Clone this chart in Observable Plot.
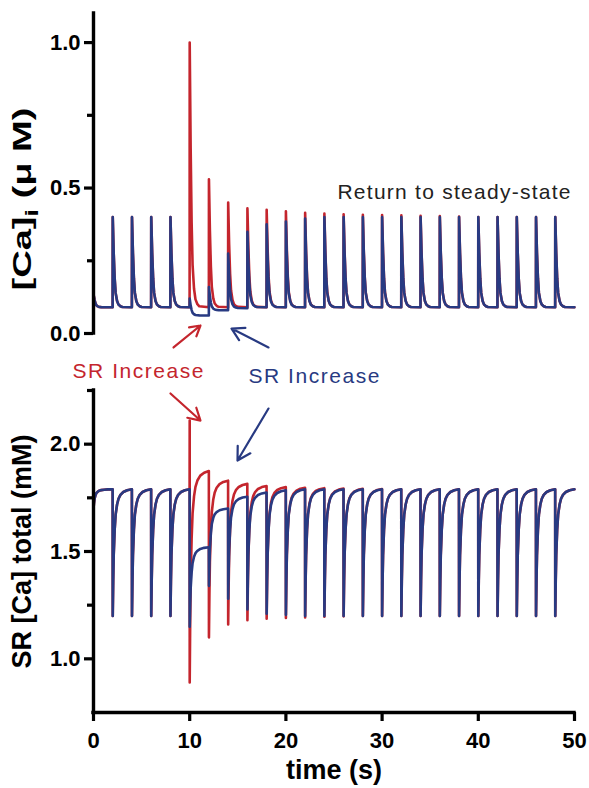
<!DOCTYPE html>
<html><head><meta charset="utf-8">
<script src="https://cdn.jsdelivr.net/npm/d3@7"></script>
<script src="https://cdn.jsdelivr.net/npm/@observablehq/plot@0.6"></script>
<style>
body{margin:0;background:#fff;}
#chart{position:relative;width:589px;height:788px;background:#fff;}
</style></head><body><div id="chart"></div>
<script>
// ---- data ----
const beatTimes = [0,2,4,6,8,10,12,14,16,18,20,22,24,26,28,30,32,34,36,38,40,42,44,46,48];
// cytosolic [Ca]i (µM): peak of each transient and diastolic level it decays to
const caBluePeak = [0.135,0.40,0.40,0.40,0.40,0.12,0.16,0.275,0.35,0.375,0.385,0.395,0.40,0.40,0.40,0.40,0.40,0.40,0.40,0.40,0.40,0.40,0.40,0.40,0.40];
const caBlueBase = [0.09,0.09,0.09,0.09,0.09,0.062,0.08,0.087,0.09,0.09,0.09,0.09,0.09,0.09,0.09,0.09,0.09,0.09,0.09,0.09,0.09,0.09,0.09,0.09,0.09];
const caRedPeak  = [0.135,0.40,0.40,0.40,0.40,1.00,0.53,0.45,0.43,0.425,0.42,0.415,0.412,0.41,0.408,0.407,0.406,0.405,0.404,0.402,0.40,0.40,0.40,0.40,0.40];
const caRedBase  = [0.09,0.09,0.09,0.09,0.09,0.09,0.09,0.09,0.09,0.09,0.09,0.09,0.09,0.09,0.09,0.09,0.09,0.09,0.09,0.09,0.09,0.09,0.09,0.09,0.09];
// SR [Ca] total (mM): minimum after release and plateau it refills to
const srBlueMin     = [1.70,1.20,1.20,1.20,1.20,1.15,1.34,1.28,1.23,1.21,1.205,1.20,1.20,1.20,1.20,1.20,1.20,1.20,1.20,1.20,1.20,1.20,1.20,1.20,1.20];
const srBluePlateau = [1.79,1.79,1.79,1.79,1.79,1.52,1.70,1.755,1.775,1.785,1.79,1.79,1.79,1.79,1.79,1.79,1.79,1.79,1.79,1.79,1.79,1.79,1.79,1.79,1.79];
const srRedMin      = [1.70,1.20,1.20,1.20,1.20,0.89,1.10,1.16,1.18,1.187,1.19,1.193,1.196,1.198,1.20,1.20,1.20,1.20,1.20,1.20,1.20,1.20,1.20,1.20,1.20];
const srRedPlateau  = [1.79,1.79,1.79,1.79,1.79,1.875,1.83,1.815,1.805,1.80,1.797,1.795,1.793,1.792,1.791,1.79,1.79,1.79,1.79,1.79,1.79,1.79,1.79,1.79,1.79];
const srRedPre      = [null,null,null,null,null,2.11,null,null,null,null,null,null,null,null,null,null,null,null,null,null,null,null,null,null,null];
// shape of one beat (time after beat in s, fraction of amplitude)
const caShapeT = [0, 0.1, 0.2, 0.3, 0.45, 0.6, 0.8, 1.0, 1.99];
const caShapeF = [1, 0.6, 0.32, 0.16, 0.07, 0.03, 0.012, 0.004, 0];
const srShapeT = [0, 0.05, 0.1, 0.2, 0.3, 0.45, 0.6, 0.8, 1.1, 1.5, 1.99];
const srShapeG = [1, 0.72, 0.52, 0.32, 0.2, 0.12, 0.075, 0.045, 0.022, 0.008, 0];
// tick values
const caTicks = [0, 0.5, 1.0], caMinor = [0.25, 0.75];
const srTicks = [1.0, 1.5, 2.0], srMinor = [1.25, 1.75, 2.25];
const timeTicks = [0, 10, 20, 30, 40, 50];
// annotations
const RED = "#c4252d", BLUE = "#283a82";
const notesTop = [
  {x: 25.36, y: 0.485, text: "Return to steady-state", c: "#222222"},
  {x: -2.18, y: -0.129, text: "SR Increase", c: RED},
  {x: 16.11, y: -0.148, text: "SR Increase", c: BLUE}
];
const arrowsTop = [
  {x1: 8.32, y1: -0.048, x2: 11.12, y2: 0.0275, c: RED},
  {x1: 18.19, y1: -0.048, x2: 14.35, y2: 0.017, c: BLUE}
];
const arrowsBottom = [
  {x1: 8.0, y1: 2.236, x2: 11.12, y2: 2.11, c: RED},
  {x1: 18.19, y1: 2.166, x2: 14.97, y2: 1.924, c: BLUE}
];

function caTrace(peaks, bases) {
  const pts = [];
  beatTimes.forEach((tb, i) => caShapeT.forEach((dt, k) =>
    pts.push({t: tb + dt, v: bases[i] + (peaks[i] - bases[i]) * caShapeF[k]})));
  return pts;
}
function srTrace(mins, plats, pre) {
  const pts = [];
  beatTimes.forEach((tb, i) => {
    if (pre[i] != null) pts.push({t: tb, v: pre[i]});
    srShapeT.forEach((dt, k) => pts.push({t: tb + dt, v: plats[i] - (plats[i] - mins[i]) * srShapeG[k]}));
  });
  return pts;
}
const caBlue = caTrace(caBluePeak, caBlueBase), caRed = caTrace(caRedPeak, caRedBase);
const srBlue = srTrace(srBlueMin, srBluePlateau, beatTimes.map(() => null));
const srRed = srTrace(srRedMin, srRedPlateau, srRedPre);

const FONT = "'Liberation Sans', Arial, Helvetica, sans-serif";
const baseStyle = {fontFamily: FONT, fontSize: "22px", fontWeight: "bold", color: "#000",
  background: "transparent", overflow: "visible", position: "absolute", left: "0px"};
const W = 589;

const topPlot = Plot.plot({
  width: W, height: 388, marginLeft: 93, marginRight: 15, marginTop: 13, marginBottom: 55,
  x: {domain: [0, 50], axis: null},
  y: {domain: [0, 1.1], axis: null},
  color: {type: "identity"},
  style: {...baseStyle, top: "0px"},
  marks: [
    Plot.line(caRed, {x: "t", y: "v", stroke: RED, strokeWidth: 2.6}),
    Plot.line(caBlue, {x: "t", y: "v", stroke: BLUE, strokeWidth: 2.6}),
    Plot.ruleX([0], {y1: 0, y2: 1.1, stroke: "#000", strokeWidth: 3.4, strokeLinecap: "square"}),
    Plot.axisY({ticks: caTicks, tickSize: 9, tickPadding: 4, tickFormat: d3.format(".1f"), strokeWidth: 3.2, fontSize: 22, fontWeight: "bold", label: null}),
    Plot.axisY({ticks: caMinor, tickSize: 6, tickFormat: () => "", strokeWidth: 3.2, label: null}),
    Plot.text(["[Ca]i (μ M)"], {frameAnchor: "left", dx: -71, dy: 25.5, rotate: -90, textAnchor: "middle", lineAnchor: "middle", fontSize: 26, fontWeight: "bold", fill: "#000"}),
    Plot.text(notesTop, {x: "x", y: "y", text: "text", fill: "c", textAnchor: "start", lineAnchor: "middle", fontSize: 21, fontWeight: "normal"}),
    Plot.arrow(arrowsTop, {x1: "x1", y1: "y1", x2: "x2", y2: "y2", stroke: "c", strokeWidth: 2.2, headLength: 10})
  ]
});

const botPlot = Plot.plot({
  width: W, height: 400, marginLeft: 93, marginRight: 15, marginTop: 2, marginBottom: 76,
  x: {domain: [0, 50], axis: null},
  y: {domain: [0.75, 2.25], axis: null},
  color: {type: "identity"},
  style: {...baseStyle, top: "388px"},
  marks: [
    Plot.line(srRed, {x: "t", y: "v", stroke: RED, strokeWidth: 2.6}),
    Plot.line(srBlue, {x: "t", y: "v", stroke: BLUE, strokeWidth: 2.6}),
    Plot.ruleX([0], {y1: 0.75, y2: 2.25, stroke: "#000", strokeWidth: 3.4, strokeLinecap: "square"}),
    Plot.ruleY([0.75], {x1: 0, x2: 50, stroke: "#000", strokeWidth: 3.4, strokeLinecap: "square"}),
    Plot.axisY({ticks: srTicks, tickSize: 9, tickPadding: 4, tickFormat: d3.format(".1f"), strokeWidth: 3.2, fontSize: 22, fontWeight: "bold", label: null}),
    Plot.axisY({ticks: srMinor, tickSize: 6, tickFormat: () => "", strokeWidth: 3.2, label: null}),
    Plot.axisX({ticks: timeTicks, tickSize: 9, tickPadding: 11, tickFormat: d3.format("d"), strokeWidth: 3.2, fontSize: 22, fontWeight: "bold", label: null}),
    Plot.text(["SR [Ca] total (mM)"], {frameAnchor: "left", dx: -71, rotate: -90, textAnchor: "middle", lineAnchor: "middle", fontSize: 27, fontWeight: "bold", fill: "#000"}),
    Plot.text(["time (s)"], {frameAnchor: "bottom", dy: 58, textAnchor: "middle", lineAnchor: "middle", fontSize: 27, fontWeight: "bold", fill: "#000"}),
    Plot.arrow(arrowsBottom, {x1: "x1", y1: "y1", x2: "x2", y2: "y2", stroke: "c", strokeWidth: 2.2, headLength: 10})
  ]
});

const chart = document.getElementById("chart");
chart.appendChild(topPlot);
chart.appendChild(botPlot);

// text fitting and subscript
d3.select(topPlot).selectAll("text").each(function() {
  const s = this.textContent;
  if (s === "Return to steady-state") { this.setAttribute("textLength", 233); this.setAttribute("lengthAdjust", "spacing"); }
  if (s === "SR Increase") { this.setAttribute("textLength", 131); this.setAttribute("lengthAdjust", "spacing"); }
  if (s === "[Ca]i (μ M)") {
    this.textContent = "";
    const ns = "http://www.w3.org/2000/svg";
    const a = document.createElementNS(ns, "tspan"); a.textContent = "[Ca]";
    const b = document.createElementNS(ns, "tspan"); b.textContent = "i"; b.setAttribute("dy", "7"); b.setAttribute("font-size", "18");
    const c = document.createElementNS(ns, "tspan"); c.textContent = " (μ M)"; c.setAttribute("dy", "-7");
    this.append(a, b, c);
    this.setAttribute("textLength", 183); this.setAttribute("lengthAdjust", "spacingAndGlyphs");
  }
});
</script></body></html>
